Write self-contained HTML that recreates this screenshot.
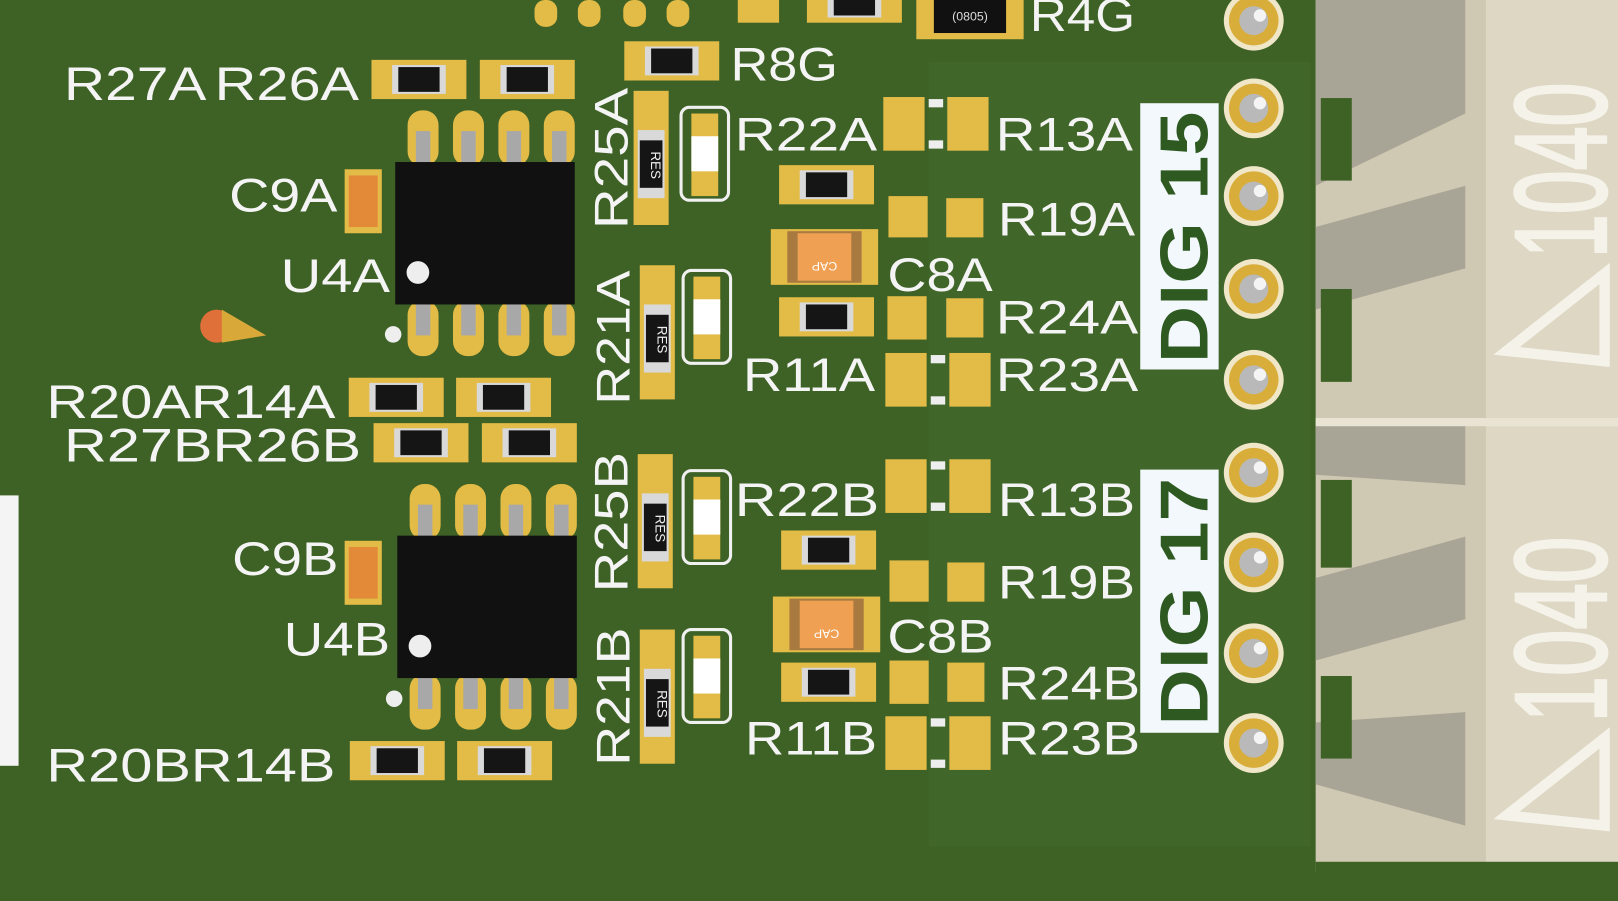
<!DOCTYPE html>
<html><head><meta charset="utf-8"><style>
html,body{margin:0;padding:0;background:#3e6226;overflow:hidden}
svg{display:block}
.t{font-family:"Liberation Sans",sans-serif;fill:#f4f4f4;font-size:46px}
</style></head><body>
<svg width="1618" height="901" viewBox="0 0 1568 873" preserveAspectRatio="none" xmlns="http://www.w3.org/2000/svg">
<defs>
<g id="res">
<rect x="0" y="0" width="92" height="38" fill="#e3bb47"/>
<rect x="20" y="5" width="52" height="28" fill="#d9d9d9"/>
<rect x="26" y="7" width="40" height="24" fill="#151515"/>
</g>
<g id="resv">
<rect x="0" y="0" width="34" height="130" fill="#e3bb47"/>
<rect x="4" y="38" width="26" height="66" fill="#d9d9d9"/>
<rect x="6" y="48" width="22" height="46" fill="#151515"/>
<text x="17" y="72" transform="rotate(90 17 72)" font-family="Liberation Sans" font-size="13" fill="#eee" text-anchor="middle">RES</text>
</g>
<g id="led">
<rect x="0" y="0" width="46" height="90" rx="8" fill="none" stroke="#f0f0f0" stroke-width="3"/>
<rect x="10" y="6" width="26" height="80" fill="#e3bb47"/>
<rect x="10" y="28" width="26" height="34" fill="#ffffff"/>
</g>
<g id="pin">
<circle r="29" fill="#f0e7c8"/>
<circle r="24" fill="#d8ad3a"/>
<circle r="14" fill="#b9b9b9"/>
<circle cx="6" cy="-5" r="6" fill="#f4f4f4"/>
</g>
<g id="chip">
<g fill="#e3bb47">
<rect x="12" y="-50" width="30" height="54" rx="14"/><rect x="56" y="-50" width="30" height="54" rx="14"/>
<rect x="100" y="-50" width="30" height="54" rx="14"/><rect x="144" y="-50" width="30" height="54" rx="14"/>
<rect x="12" y="134" width="30" height="54" rx="14"/><rect x="56" y="134" width="30" height="54" rx="14"/>
<rect x="100" y="134" width="30" height="54" rx="14"/><rect x="144" y="134" width="30" height="54" rx="14"/>
</g>
<g fill="#a8a8a8">
<rect x="20" y="-30" width="14" height="32"/><rect x="64" y="-30" width="14" height="32"/>
<rect x="108" y="-30" width="14" height="32"/><rect x="152" y="-30" width="14" height="32"/>
<rect x="20" y="136" width="14" height="32"/><rect x="64" y="136" width="14" height="32"/>
<rect x="108" y="136" width="14" height="32"/><rect x="152" y="136" width="14" height="32"/>
</g>
<rect x="0" y="0" width="174" height="138" fill="#111"/>
<circle cx="22" cy="107" r="11" fill="#eee"/>
</g>
<g id="pad2">
<rect x="0" y="0" width="40" height="52" fill="#e3bb47"/>
<rect x="62" y="0" width="40" height="52" fill="#e3bb47"/>
<rect x="44" y="2" width="14" height="8" fill="#eee"/><rect x="44" y="42" width="14" height="8" fill="#eee"/>
</g>
<g id="cap">
<rect x="0" y="0" width="104" height="54" fill="#e3bb47"/>
<rect x="16" y="2" width="72" height="50" fill="#a87a40"/>
<rect x="26" y="4" width="52" height="46" fill="#f0a052"/>
<text x="52" y="22" transform="rotate(180 52 27)" font-family="Liberation Sans" font-size="12" fill="#fff" text-anchor="middle">CAP</text>
</g>
</defs>

<rect width="1568" height="873" fill="#3e6226"/>
<rect x="900" y="60" width="370" height="760" fill="#44692d" opacity=".6"/>
<rect x="0" y="480" width="18" height="262" fill="#f4f4f4"/>

<rect x="1275" y="0" width="293" height="845" fill="#cfc8b2"/>
<rect x="1440" y="0" width="128" height="845" fill="#ddd7c4"/>
<g fill="#a9a596">
<polygon points="1275,0 1420,0 1420,110 1275,180"/>
<polygon points="1275,220 1420,180 1420,260 1275,300"/>
<polygon points="1275,410 1420,410 1420,470 1275,460"/>
<polygon points="1275,560 1420,520 1420,600 1275,640"/>
<polygon points="1275,700 1420,690 1420,800 1275,760"/>
</g>
<g fill="#3e6226">
<rect x="1280" y="95" width="30" height="80"/><rect x="1280" y="280" width="30" height="90"/>
<rect x="1280" y="465" width="30" height="85"/><rect x="1280" y="655" width="30" height="80"/>
</g>
<rect x="1275" y="405" width="293" height="8" fill="#e8e3d3"/>
<rect x="1275" y="835" width="293" height="38" fill="#3e6226"/>
<text x="1556" y="250" transform="rotate(-90 1556 250)" font-family="Liberation Sans" font-size="126" fill="#f5f2ea" stroke="#f5f2ea" stroke-width="3" textLength="170" lengthAdjust="spacingAndGlyphs">1040</text>
<text x="1556" y="700" transform="rotate(-90 1556 700)" font-family="Liberation Sans" font-size="126" fill="#f5f2ea" stroke="#f5f2ea" stroke-width="3" textLength="180" lengthAdjust="spacingAndGlyphs">1040</text>
<polygon points="1460,340 1555,265 1555,350" fill="none" stroke="#f5f2ea" stroke-width="10"/>
<polygon points="1460,790 1555,715 1555,800" fill="none" stroke="#f5f2ea" stroke-width="10"/>

<use href="#pin" x="1215" y="20"/><use href="#pin" x="1215" y="105"/><use href="#pin" x="1215" y="190"/>
<use href="#pin" x="1215" y="280"/><use href="#pin" x="1215" y="368"/><use href="#pin" x="1215" y="458"/>
<use href="#pin" x="1215" y="545"/><use href="#pin" x="1215" y="633"/><use href="#pin" x="1215" y="720"/>

<rect x="1105" y="100" width="76" height="258" fill="#f2f8fc"/>
<text x="1170" y="352" transform="rotate(-90 1170 352)" font-family="Liberation Sans" font-weight="bold" font-size="66" fill="#2e5a22" textLength="244" lengthAdjust="spacingAndGlyphs">DIG 15</text>
<rect x="1105" y="455" width="76" height="255" fill="#f2f8fc"/>
<text x="1170" y="703" transform="rotate(-90 1170 703)" font-family="Liberation Sans" font-weight="bold" font-size="66" fill="#2e5a22" textLength="240" lengthAdjust="spacingAndGlyphs">DIG 17</text>

<g fill="#e3bb47"><rect x="518" y="0" width="22" height="26" rx="10"/><rect x="560" y="0" width="22" height="26" rx="10"/><rect x="604" y="0" width="22" height="26" rx="10"/><rect x="646" y="0" width="22" height="26" rx="10"/></g>
<rect x="715" y="0" width="40" height="22" fill="#e3bb47"/>
<use href="#res" x="782" y="-16"/>
<rect x="888" y="0" width="104" height="38" fill="#e3bb47"/><rect x="905" y="0" width="70" height="32" fill="#111"/>
<text x="940" y="20" font-family="Liberation Sans" font-size="12" fill="#ddd" text-anchor="middle">(0805)</text>

<use href="#res" x="360" y="58"/><use href="#res" x="465" y="58"/>
<use href="#res" x="605" y="40"/>
<use href="#chip" x="383" y="157"/>
<rect x="334" y="164" width="36" height="62" fill="#e3bb47"/><rect x="338" y="170" width="28" height="50" fill="#e28a38"/>
<use href="#resv" x="614" y="88"/>
<use href="#led" x="660" y="104"/>
<use href="#resv" x="620" y="257"/>
<use href="#led" x="662" y="262"/>
<use href="#pad2" x="856" y="94"/>
<use href="#res" x="755" y="160"/>
<rect x="861" y="190" width="38" height="40" fill="#e3bb47"/><rect x="917" y="192" width="36" height="38" fill="#e3bb47"/>
<use href="#cap" x="747" y="222"/>
<use href="#res" x="755" y="288"/>
<rect x="860" y="287" width="38" height="42" fill="#e3bb47"/><rect x="917" y="289" width="36" height="38" fill="#e3bb47"/>
<use href="#pad2" x="858" y="342"/>
<use href="#res" x="338" y="366"/><use href="#res" x="442" y="366"/>
<use href="#res" x="362" y="410"/><use href="#res" x="467" y="410"/>
<circle cx="210" cy="316" r="16" fill="#e0703a"/><polygon points="215,300 258,325 215,332" fill="#d8a838"/>
<circle cx="381" cy="324" r="8" fill="#eee"/>

<use href="#chip" x="385" y="519"/>
<rect x="334" y="524" width="36" height="62" fill="#e3bb47"/><rect x="338" y="530" width="28" height="50" fill="#e28a38"/>
<use href="#resv" x="618" y="440"/>
<use href="#led" x="662" y="456"/>
<use href="#resv" x="620" y="610"/>
<use href="#led" x="662" y="610"/>
<use href="#pad2" x="858" y="445"/>
<use href="#res" x="757" y="514"/>
<rect x="862" y="543" width="38" height="40" fill="#e3bb47"/><rect x="918" y="545" width="36" height="38" fill="#e3bb47"/>
<use href="#cap" x="749" y="578"/>
<use href="#res" x="757" y="642"/>
<rect x="862" y="640" width="38" height="42" fill="#e3bb47"/><rect x="918" y="642" width="36" height="38" fill="#e3bb47"/>
<use href="#pad2" x="858" y="694"/>
<use href="#res" x="339" y="718"/><use href="#res" x="443" y="718"/>
<circle cx="382" cy="677" r="8" fill="#eee"/>

<g>
<text class="t" x="998" y="30" textLength="102" lengthAdjust="spacingAndGlyphs">R4G</text>
<text class="t" x="62" y="97" textLength="138" lengthAdjust="spacingAndGlyphs">R27A</text>
<text class="t" x="208" y="97" textLength="140" lengthAdjust="spacingAndGlyphs">R26A</text>
<text class="t" x="708" y="78" textLength="104" lengthAdjust="spacingAndGlyphs">R8G</text>
<text class="t" x="712" y="146" textLength="138" lengthAdjust="spacingAndGlyphs">R22A</text>
<text class="t" x="965" y="146" textLength="133" lengthAdjust="spacingAndGlyphs">R13A</text>
<text class="t" x="967" y="228" textLength="133" lengthAdjust="spacingAndGlyphs">R19A</text>
<text class="t" x="860" y="282" textLength="102" lengthAdjust="spacingAndGlyphs">C8A</text>
<text class="t" x="965" y="323" textLength="138" lengthAdjust="spacingAndGlyphs">R24A</text>
<text class="t" x="720" y="379" textLength="128" lengthAdjust="spacingAndGlyphs">R11A</text>
<text class="t" x="965" y="379" textLength="138" lengthAdjust="spacingAndGlyphs">R23A</text>
<text class="t" x="222" y="205" textLength="105" lengthAdjust="spacingAndGlyphs">C9A</text>
<text class="t" x="272" y="283" textLength="106" lengthAdjust="spacingAndGlyphs">U4A</text>
<text class="t" x="45" y="405" textLength="280" lengthAdjust="spacingAndGlyphs">R20AR14A</text>
<text class="t" x="62" y="447" textLength="288" lengthAdjust="spacingAndGlyphs">R27BR26B</text>
<text class="t" x="712" y="500" textLength="140" lengthAdjust="spacingAndGlyphs">R22B</text>
<text class="t" x="967" y="500" textLength="133" lengthAdjust="spacingAndGlyphs">R13B</text>
<text class="t" x="967" y="580" textLength="133" lengthAdjust="spacingAndGlyphs">R19B</text>
<text class="t" x="860" y="632" textLength="103" lengthAdjust="spacingAndGlyphs">C8B</text>
<text class="t" x="967" y="678" textLength="138" lengthAdjust="spacingAndGlyphs">R24B</text>
<text class="t" x="722" y="731" textLength="128" lengthAdjust="spacingAndGlyphs">R11B</text>
<text class="t" x="967" y="731" textLength="138" lengthAdjust="spacingAndGlyphs">R23B</text>
<text class="t" x="225" y="557" textLength="103" lengthAdjust="spacingAndGlyphs">C9B</text>
<text class="t" x="275" y="635" textLength="103" lengthAdjust="spacingAndGlyphs">U4B</text>
<text class="t" x="45" y="757" textLength="280" lengthAdjust="spacingAndGlyphs">R20BR14B</text>
<text class="t" x="608" y="222" transform="rotate(-90 608 222)" textLength="137" lengthAdjust="spacingAndGlyphs">R25A</text>
<text class="t" x="610" y="392" transform="rotate(-90 610 392)" textLength="130" lengthAdjust="spacingAndGlyphs">R21A</text>
<text class="t" x="608" y="574" transform="rotate(-90 608 574)" textLength="136" lengthAdjust="spacingAndGlyphs">R25B</text>
<text class="t" x="610" y="742" transform="rotate(-90 610 742)" textLength="134" lengthAdjust="spacingAndGlyphs">R21B</text>
</g>
</svg>
</body></html>
